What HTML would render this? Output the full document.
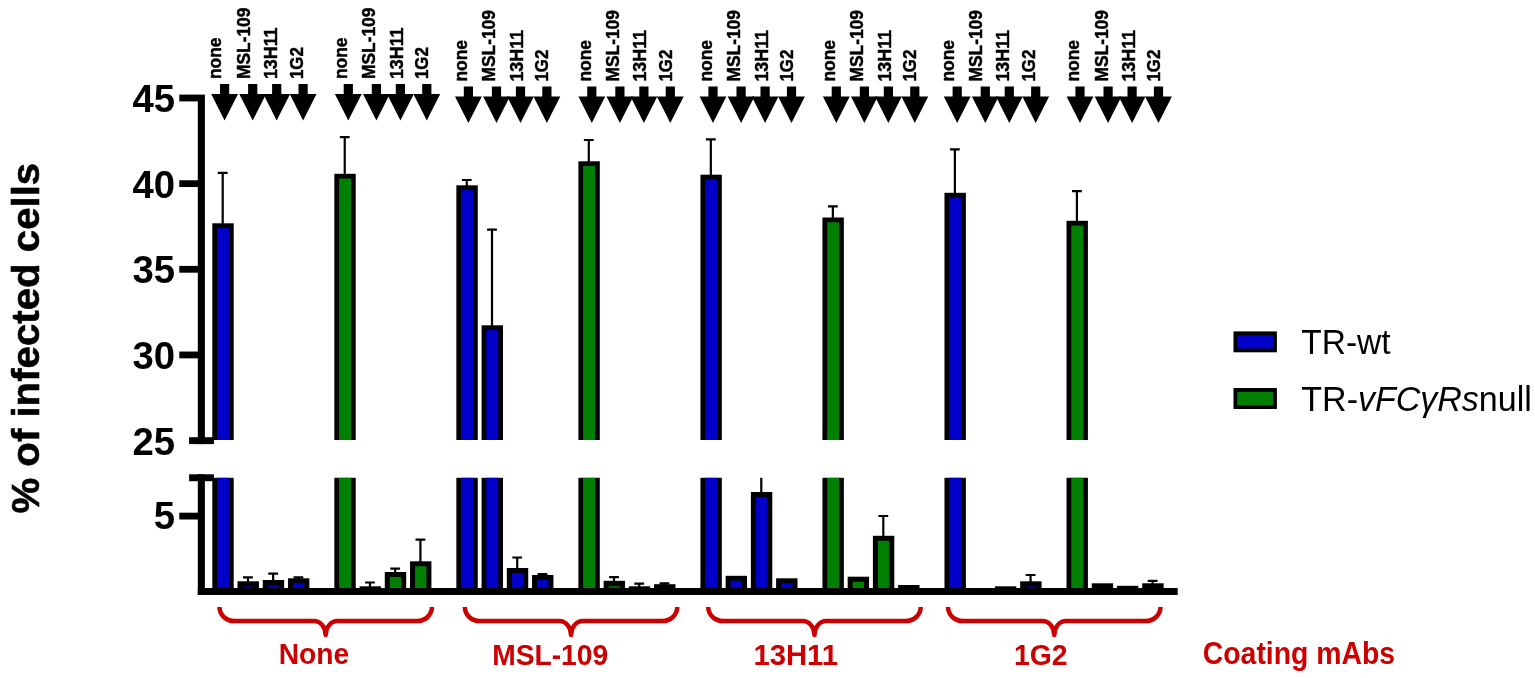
<!DOCTYPE html>
<html lang="en">
<head>
<meta charset="utf-8">
<title>% of infected cells - coating mAbs</title>
<style>
html,body{margin:0;padding:0;background:#fff;}
body{width:1535px;height:678px;overflow:hidden;}
svg{display:block;}
text{font-family:"Liberation Sans", sans-serif;}
.tick{font-size:38.3px;font-weight:bold;fill:#000;text-anchor:end;}
.ytitle{font-size:39.6px;font-weight:bold;fill:#000;text-anchor:middle;stroke:#000;stroke-width:0.6;stroke-linejoin:round;}
.top{font-size:18.4px;font-weight:bold;fill:#000;stroke:#000;stroke-width:0.45;stroke-linejoin:round;}
.red{font-size:29px;font-weight:bold;fill:#cc0000;}
.leg{font-size:35.2px;fill:#000;}
.err{stroke:#000;stroke-width:2.2;fill:none;}
.brace{fill:none;stroke:#cc0000;stroke-width:4.5;stroke-linecap:butt;stroke-linejoin:round;}
</style>
</head>
<body>
<svg width="1535" height="678" viewBox="0 0 1535 678" role="img" aria-label="Bar chart: % of infected cells by coating mAbs">
<rect x="0" y="0" width="1535" height="678" fill="#fff"/>
<text class="ytitle" transform="translate(38.8,338.2) rotate(-90)" textLength="350.8" lengthAdjust="spacingAndGlyphs">% of infected cells</text>
<text class="tick" x="175.1" y="111.7">45</text>
<text class="tick" x="175.1" y="197.5">40</text>
<text class="tick" x="175.1" y="283.2">35</text>
<text class="tick" x="175.1" y="368.8">30</text>
<text class="tick" x="175.1" y="454.6">25</text>
<text class="tick" x="175.1" y="528.5">5</text>
<g>
<path class="err" d="M222.7,225.3 V172.8 M217.8,172.8 H227.6"/>
<rect x="212.3" y="223.3" width="21.4" height="216.7" fill="#000"/>
<rect x="217.05" y="228.05" width="11.9" height="211.95" fill="#0000c8"/>
<rect x="212.3" y="477.8" width="21.4" height="113.7" fill="#000"/>
<rect x="217.05" y="477.8" width="11.9" height="113.7" fill="#0000c8"/>
<path class="err" d="M247.93,583.3 V577.3 M243.03,577.3 H252.83"/>
<rect x="237.53" y="581.3" width="21.4" height="10.2" fill="#000"/>
<rect x="242.58" y="586.25" width="11.3" height="3.08" fill="#00007b"/>
<path class="err" d="M273.16,582 V573.6 M268.26,573.6 H278.06"/>
<rect x="262.76" y="580" width="21.4" height="11.5" fill="#000"/>
<rect x="267.81" y="584.95" width="11.3" height="4.38" fill="#0000af"/>
<path class="err" d="M298.39,580.3 V577.3 M293.49,577.3 H303.29"/>
<rect x="287.99" y="578.3" width="21.4" height="13.2" fill="#000"/>
<rect x="293.04" y="583.25" width="11.3" height="6.08" fill="#0000c8"/>
<path class="err" d="M344.73,175.8 V137.2 M339.83,137.2 H349.63"/>
<rect x="334.33" y="173.8" width="21.4" height="266.2" fill="#000"/>
<rect x="339.08" y="178.55" width="11.9" height="261.45" fill="#008000"/>
<rect x="334.33" y="477.8" width="21.4" height="113.7" fill="#000"/>
<rect x="339.08" y="477.8" width="11.9" height="113.7" fill="#008000"/>
<path class="err" d="M369.96,588.3 V582.5 M365.06,582.5 H374.86"/>
<rect x="359.56" y="586.3" width="21.4" height="5.2" fill="#000"/>
<path class="err" d="M395.19,574 V568.6 M390.29,568.6 H400.09"/>
<rect x="384.79" y="572" width="21.4" height="19.5" fill="#000"/>
<rect x="389.84" y="576.95" width="11.3" height="12.38" fill="#008000"/>
<path class="err" d="M420.42,563.3 V539.6 M415.52,539.6 H425.32"/>
<rect x="410.02" y="561.3" width="21.4" height="30.2" fill="#000"/>
<rect x="415.07" y="566.25" width="11.3" height="23.08" fill="#008000"/>
<path class="err" d="M466.76,187.3 V180 M461.86,180 H471.66"/>
<rect x="456.36" y="185.3" width="21.4" height="254.7" fill="#000"/>
<rect x="461.11" y="190.05" width="11.9" height="249.95" fill="#0000c8"/>
<rect x="456.36" y="477.8" width="21.4" height="113.7" fill="#000"/>
<rect x="461.11" y="477.8" width="11.9" height="113.7" fill="#0000c8"/>
<path class="err" d="M491.99,327.3 V229.7 M487.09,229.7 H496.89"/>
<rect x="481.59" y="325.3" width="21.4" height="114.7" fill="#000"/>
<rect x="486.34" y="330.05" width="11.9" height="109.95" fill="#0000c8"/>
<rect x="481.59" y="477.8" width="21.4" height="113.7" fill="#000"/>
<rect x="486.34" y="477.8" width="11.9" height="113.7" fill="#0000c8"/>
<path class="err" d="M517.22,570 V557.5 M512.32,557.5 H522.12"/>
<rect x="506.82" y="568" width="21.4" height="23.5" fill="#000"/>
<rect x="511.87" y="572.95" width="11.3" height="16.38" fill="#0000c8"/>
<path class="err" d="M542.45,577 V574.2 M537.55,574.2 H547.35"/>
<rect x="532.05" y="575" width="21.4" height="16.5" fill="#000"/>
<rect x="537.1" y="579.95" width="11.3" height="9.38" fill="#0000c8"/>
<path class="err" d="M588.79,163.3 V140 M583.89,140 H593.69"/>
<rect x="578.39" y="161.3" width="21.4" height="278.7" fill="#000"/>
<rect x="583.14" y="166.05" width="11.9" height="273.95" fill="#008000"/>
<rect x="578.39" y="477.8" width="21.4" height="113.7" fill="#000"/>
<rect x="583.14" y="477.8" width="11.9" height="113.7" fill="#008000"/>
<path class="err" d="M614.02,582.8 V577.2 M609.12,577.2 H618.92"/>
<rect x="603.62" y="580.8" width="21.4" height="10.7" fill="#000"/>
<rect x="608.67" y="585.75" width="11.3" height="3.58" fill="#005c00"/>
<path class="err" d="M639.25,588.3 V583.7 M634.35,583.7 H644.15"/>
<rect x="628.85" y="586.3" width="21.4" height="5.2" fill="#000"/>
<path class="err" d="M664.48,586.2 V583.3 M659.58,583.3 H669.38"/>
<rect x="654.08" y="584.2" width="21.4" height="7.3" fill="#000"/>
<rect x="659.13" y="589.15" width="11.3" height="0.17" fill="#004000"/>
<path class="err" d="M710.82,176.7 V139.4 M705.92,139.4 H715.72"/>
<rect x="700.42" y="174.7" width="21.4" height="265.3" fill="#000"/>
<rect x="705.17" y="179.45" width="11.9" height="260.55" fill="#0000c8"/>
<rect x="700.42" y="477.8" width="21.4" height="113.7" fill="#000"/>
<rect x="705.17" y="477.8" width="11.9" height="113.7" fill="#0000c8"/>
<rect x="725.65" y="575.8" width="21.4" height="15.7" fill="#000"/>
<rect x="730.7" y="580.75" width="11.3" height="8.58" fill="#0000c8"/>
<path class="err" d="M761.28,494 V477.8"/>
<rect x="750.88" y="492" width="21.4" height="99.5" fill="#000"/>
<rect x="755.93" y="496.95" width="11.3" height="92.38" fill="#0000c8"/>
<rect x="776.11" y="578.3" width="21.4" height="13.2" fill="#000"/>
<rect x="781.16" y="583.25" width="11.3" height="6.08" fill="#0000c8"/>
<path class="err" d="M832.85,219.5 V206.3 M827.95,206.3 H837.75"/>
<rect x="822.45" y="217.5" width="21.4" height="222.5" fill="#000"/>
<rect x="827.2" y="222.25" width="11.9" height="217.75" fill="#008000"/>
<rect x="822.45" y="477.8" width="21.4" height="113.7" fill="#000"/>
<rect x="827.2" y="477.8" width="11.9" height="113.7" fill="#008000"/>
<rect x="847.68" y="576.7" width="21.4" height="14.8" fill="#000"/>
<rect x="852.73" y="581.65" width="11.3" height="7.67" fill="#008000"/>
<path class="err" d="M883.31,537.8 V516 M878.41,516 H888.21"/>
<rect x="872.91" y="535.8" width="21.4" height="55.7" fill="#000"/>
<rect x="877.96" y="540.75" width="11.3" height="48.58" fill="#008000"/>
<rect x="898.14" y="585" width="21.4" height="6.5" fill="#000"/>
<path class="err" d="M954.88,194.8 V149.4 M949.98,149.4 H959.78"/>
<rect x="944.48" y="192.8" width="21.4" height="247.2" fill="#000"/>
<rect x="949.23" y="197.55" width="11.9" height="242.45" fill="#0000c8"/>
<rect x="944.48" y="477.8" width="21.4" height="113.7" fill="#000"/>
<rect x="949.23" y="477.8" width="11.9" height="113.7" fill="#0000c8"/>
<rect x="994.94" y="586.3" width="21.4" height="5.2" fill="#000"/>
<path class="err" d="M1030.57,583.3 V575 M1025.67,575 H1035.47"/>
<rect x="1020.17" y="581.3" width="21.4" height="10.2" fill="#000"/>
<rect x="1025.22" y="586.25" width="11.3" height="3.08" fill="#00007b"/>
<path class="err" d="M1076.91,222.8 V191.1 M1072.01,191.1 H1081.81"/>
<rect x="1066.51" y="220.8" width="21.4" height="219.2" fill="#000"/>
<rect x="1071.26" y="225.55" width="11.9" height="214.45" fill="#008000"/>
<rect x="1066.51" y="477.8" width="21.4" height="113.7" fill="#000"/>
<rect x="1071.26" y="477.8" width="11.9" height="113.7" fill="#008000"/>
<rect x="1091.74" y="583.3" width="21.4" height="8.2" fill="#000"/>
<rect x="1096.79" y="588.25" width="11.3" height="1.08" fill="#004000"/>
<rect x="1116.97" y="585.8" width="21.4" height="5.7" fill="#000"/>
<path class="err" d="M1152.6,585.3 V580.8 M1147.7,580.8 H1157.5"/>
<rect x="1142.2" y="583.3" width="21.4" height="8.2" fill="#000"/>
<rect x="1147.25" y="588.25" width="11.3" height="1.08" fill="#004000"/>
</g>
<g fill="#000">
<rect x="197.8" y="94.6" width="7.1" height="349.5"/>
<rect x="197.8" y="474.3" width="7.1" height="120.7"/>
<rect x="179.3" y="94.6" width="19" height="6.8"/>
<rect x="179.3" y="180.25" width="19" height="6.8"/>
<rect x="179.3" y="265.9" width="19" height="6.8"/>
<rect x="179.3" y="351.55" width="19" height="6.8"/>
<rect x="179.3" y="512.7" width="19" height="6.8"/>
<rect x="189.1" y="437.2" width="24.8" height="6.9"/>
<rect x="189.1" y="474.3" width="24.8" height="6.9"/>
<rect x="197.8" y="588" width="979.9" height="7"/>
</g>
<g fill="#000">
<path transform="translate(224.6,83.9)" d="M-4.6,0H4.6V10.2H13.4L0,36.6L-13.4,10.2H-4.6Z"/>
<path transform="translate(252.7,83.9)" d="M-4.6,0H4.6V10.2H13.4L0,36.6L-13.4,10.2H-4.6Z"/>
<path transform="translate(276.7,83.9)" d="M-4.6,0H4.6V10.2H13.4L0,36.6L-13.4,10.2H-4.6Z"/>
<path transform="translate(303.1,83.9)" d="M-4.6,0H4.6V10.2H13.4L0,36.6L-13.4,10.2H-4.6Z"/>
<path transform="translate(348.3,83.9)" d="M-4.6,0H4.6V10.2H13.4L0,36.6L-13.4,10.2H-4.6Z"/>
<path transform="translate(376.4,83.9)" d="M-4.6,0H4.6V10.2H13.4L0,36.6L-13.4,10.2H-4.6Z"/>
<path transform="translate(400.4,83.9)" d="M-4.6,0H4.6V10.2H13.4L0,36.6L-13.4,10.2H-4.6Z"/>
<path transform="translate(426.8,83.9)" d="M-4.6,0H4.6V10.2H13.4L0,36.6L-13.4,10.2H-4.6Z"/>
<path transform="translate(468.4,86.4)" d="M-4.6,0H4.6V10.2H13.4L0,36.6L-13.4,10.2H-4.6Z"/>
<path transform="translate(496.5,86.4)" d="M-4.6,0H4.6V10.2H13.4L0,36.6L-13.4,10.2H-4.6Z"/>
<path transform="translate(520.5,86.4)" d="M-4.6,0H4.6V10.2H13.4L0,36.6L-13.4,10.2H-4.6Z"/>
<path transform="translate(546.9,86.4)" d="M-4.6,0H4.6V10.2H13.4L0,36.6L-13.4,10.2H-4.6Z"/>
<path transform="translate(591.8,86.4)" d="M-4.6,0H4.6V10.2H13.4L0,36.6L-13.4,10.2H-4.6Z"/>
<path transform="translate(619.9,86.4)" d="M-4.6,0H4.6V10.2H13.4L0,36.6L-13.4,10.2H-4.6Z"/>
<path transform="translate(643.9,86.4)" d="M-4.6,0H4.6V10.2H13.4L0,36.6L-13.4,10.2H-4.6Z"/>
<path transform="translate(670.3,86.4)" d="M-4.6,0H4.6V10.2H13.4L0,36.6L-13.4,10.2H-4.6Z"/>
<path transform="translate(713,86.4)" d="M-4.6,0H4.6V10.2H13.4L0,36.6L-13.4,10.2H-4.6Z"/>
<path transform="translate(741.1,86.4)" d="M-4.6,0H4.6V10.2H13.4L0,36.6L-13.4,10.2H-4.6Z"/>
<path transform="translate(765.1,86.4)" d="M-4.6,0H4.6V10.2H13.4L0,36.6L-13.4,10.2H-4.6Z"/>
<path transform="translate(791.5,86.4)" d="M-4.6,0H4.6V10.2H13.4L0,36.6L-13.4,10.2H-4.6Z"/>
<path transform="translate(836.3,86.4)" d="M-4.6,0H4.6V10.2H13.4L0,36.6L-13.4,10.2H-4.6Z"/>
<path transform="translate(864.4,86.4)" d="M-4.6,0H4.6V10.2H13.4L0,36.6L-13.4,10.2H-4.6Z"/>
<path transform="translate(888.4,86.4)" d="M-4.6,0H4.6V10.2H13.4L0,36.6L-13.4,10.2H-4.6Z"/>
<path transform="translate(914.8,86.4)" d="M-4.6,0H4.6V10.2H13.4L0,36.6L-13.4,10.2H-4.6Z"/>
<path transform="translate(957.2,86.4)" d="M-4.6,0H4.6V10.2H13.4L0,36.6L-13.4,10.2H-4.6Z"/>
<path transform="translate(985.3,86.4)" d="M-4.6,0H4.6V10.2H13.4L0,36.6L-13.4,10.2H-4.6Z"/>
<path transform="translate(1009.3,86.4)" d="M-4.6,0H4.6V10.2H13.4L0,36.6L-13.4,10.2H-4.6Z"/>
<path transform="translate(1035.7,86.4)" d="M-4.6,0H4.6V10.2H13.4L0,36.6L-13.4,10.2H-4.6Z"/>
<path transform="translate(1080,86.4)" d="M-4.6,0H4.6V10.2H13.4L0,36.6L-13.4,10.2H-4.6Z"/>
<path transform="translate(1108.1,86.4)" d="M-4.6,0H4.6V10.2H13.4L0,36.6L-13.4,10.2H-4.6Z"/>
<path transform="translate(1132.1,86.4)" d="M-4.6,0H4.6V10.2H13.4L0,36.6L-13.4,10.2H-4.6Z"/>
<path transform="translate(1158.5,86.4)" d="M-4.6,0H4.6V10.2H13.4L0,36.6L-13.4,10.2H-4.6Z"/>
</g>
<text class="top" transform="translate(221.1,79.1) rotate(-90)" textLength="41.6" lengthAdjust="spacingAndGlyphs">none</text>
<text class="top" transform="translate(249.7,79.1) rotate(-90)" textLength="71.6" lengthAdjust="spacingAndGlyphs">MSL-109</text>
<text class="top" transform="translate(277,79.1) rotate(-90)" textLength="51.6" lengthAdjust="spacingAndGlyphs">13H11</text>
<text class="top" transform="translate(302.8,79.1) rotate(-90)" textLength="31.9" lengthAdjust="spacingAndGlyphs">1G2</text>
<text class="top" transform="translate(347,79.1) rotate(-90)" textLength="41.6" lengthAdjust="spacingAndGlyphs">none</text>
<text class="top" transform="translate(375.3,79.1) rotate(-90)" textLength="71.6" lengthAdjust="spacingAndGlyphs">MSL-109</text>
<text class="top" transform="translate(402.9,79.1) rotate(-90)" textLength="51.6" lengthAdjust="spacingAndGlyphs">13H11</text>
<text class="top" transform="translate(428.2,79.1) rotate(-90)" textLength="31.9" lengthAdjust="spacingAndGlyphs">1G2</text>
<text class="top" transform="translate(467.1,81.6) rotate(-90)" textLength="41.6" lengthAdjust="spacingAndGlyphs">none</text>
<text class="top" transform="translate(495.4,81.6) rotate(-90)" textLength="71.6" lengthAdjust="spacingAndGlyphs">MSL-109</text>
<text class="top" transform="translate(523,81.6) rotate(-90)" textLength="51.6" lengthAdjust="spacingAndGlyphs">13H11</text>
<text class="top" transform="translate(548.3,81.6) rotate(-90)" textLength="31.9" lengthAdjust="spacingAndGlyphs">1G2</text>
<text class="top" transform="translate(590.5,81.6) rotate(-90)" textLength="41.6" lengthAdjust="spacingAndGlyphs">none</text>
<text class="top" transform="translate(618.8,81.6) rotate(-90)" textLength="71.6" lengthAdjust="spacingAndGlyphs">MSL-109</text>
<text class="top" transform="translate(646.4,81.6) rotate(-90)" textLength="51.6" lengthAdjust="spacingAndGlyphs">13H11</text>
<text class="top" transform="translate(671.7,81.6) rotate(-90)" textLength="31.9" lengthAdjust="spacingAndGlyphs">1G2</text>
<text class="top" transform="translate(711.7,81.6) rotate(-90)" textLength="41.6" lengthAdjust="spacingAndGlyphs">none</text>
<text class="top" transform="translate(740,81.6) rotate(-90)" textLength="71.6" lengthAdjust="spacingAndGlyphs">MSL-109</text>
<text class="top" transform="translate(767.6,81.6) rotate(-90)" textLength="51.6" lengthAdjust="spacingAndGlyphs">13H11</text>
<text class="top" transform="translate(792.9,81.6) rotate(-90)" textLength="31.9" lengthAdjust="spacingAndGlyphs">1G2</text>
<text class="top" transform="translate(835,81.6) rotate(-90)" textLength="41.6" lengthAdjust="spacingAndGlyphs">none</text>
<text class="top" transform="translate(863.3,81.6) rotate(-90)" textLength="71.6" lengthAdjust="spacingAndGlyphs">MSL-109</text>
<text class="top" transform="translate(890.9,81.6) rotate(-90)" textLength="51.6" lengthAdjust="spacingAndGlyphs">13H11</text>
<text class="top" transform="translate(916.2,81.6) rotate(-90)" textLength="31.9" lengthAdjust="spacingAndGlyphs">1G2</text>
<text class="top" transform="translate(953.6,81.6) rotate(-90)" textLength="41.6" lengthAdjust="spacingAndGlyphs">none</text>
<text class="top" transform="translate(982.4,81.6) rotate(-90)" textLength="71.6" lengthAdjust="spacingAndGlyphs">MSL-109</text>
<text class="top" transform="translate(1009.2,81.6) rotate(-90)" textLength="51.6" lengthAdjust="spacingAndGlyphs">13H11</text>
<text class="top" transform="translate(1035,81.6) rotate(-90)" textLength="31.9" lengthAdjust="spacingAndGlyphs">1G2</text>
<text class="top" transform="translate(1079.1,81.6) rotate(-90)" textLength="41.6" lengthAdjust="spacingAndGlyphs">none</text>
<text class="top" transform="translate(1107.6,81.6) rotate(-90)" textLength="71.6" lengthAdjust="spacingAndGlyphs">MSL-109</text>
<text class="top" transform="translate(1134.7,81.6) rotate(-90)" textLength="51.6" lengthAdjust="spacingAndGlyphs">13H11</text>
<text class="top" transform="translate(1160.3,81.6) rotate(-90)" textLength="31.9" lengthAdjust="spacingAndGlyphs">1G2</text>
<path class="brace" d="M219.45,607.1 A15,14 0 0 0 234.45,621.1 H313.9 A11.8,13.85 0 0 1 325.7,634.95 M431.95,607.1 A15,14 0 0 1 416.95,621.1 H337.5 A11.8,13.85 0 0 0 325.7,634.95"/>
<circle cx="325.7" cy="634.95" r="2.25" fill="#cc0000"/>
<path class="brace" d="M464.8,607.1 A15,14 0 0 0 479.8,621.1 H559.25 A11.8,13.85 0 0 1 571.05,634.95 M677.3,607.1 A15,14 0 0 1 662.3,621.1 H582.85 A11.8,13.85 0 0 0 571.05,634.95"/>
<circle cx="571.05" cy="634.95" r="2.25" fill="#cc0000"/>
<path class="brace" d="M708.2,607.1 A15,14 0 0 0 723.2,621.1 H802.65 A11.8,13.85 0 0 1 814.45,634.95 M920.7,607.1 A15,14 0 0 1 905.7,621.1 H826.25 A11.8,13.85 0 0 0 814.45,634.95"/>
<circle cx="814.45" cy="634.95" r="2.25" fill="#cc0000"/>
<path class="brace" d="M948,607.1 A15,14 0 0 0 963,621.1 H1042.45 A11.8,13.85 0 0 1 1054.25,634.95 M1160.5,607.1 A15,14 0 0 1 1145.5,621.1 H1066.05 A11.8,13.85 0 0 0 1054.25,634.95"/>
<circle cx="1054.25" cy="634.95" r="2.25" fill="#cc0000"/>
<text class="red" x="278.7" y="664" textLength="70.5" lengthAdjust="spacingAndGlyphs">None</text>
<text class="red" x="492.2" y="665.4" textLength="116" lengthAdjust="spacingAndGlyphs">MSL-109</text>
<text class="red" x="753.4" y="665.4" textLength="84.6" lengthAdjust="spacingAndGlyphs">13H11</text>
<text class="red" x="1014" y="665.4" textLength="53.6" lengthAdjust="spacingAndGlyphs">1G2</text>
<text class="red" style="font-size:30.6px" x="1202.8" y="663.6" textLength="192.3" lengthAdjust="spacingAndGlyphs">Coating mAbs</text>
<rect x="1235.4" y="333.3" width="39.6" height="17.1" fill="#0000c8" stroke="#000" stroke-width="3.8"/>
<rect x="1235.4" y="389.9" width="39.6" height="17.2" fill="#008000" stroke="#000" stroke-width="3.8"/>
<text class="leg" x="1301.3" y="353.5" textLength="89.3" lengthAdjust="spacingAndGlyphs">TR-wt</text>
<text class="leg" x="1301.3" y="410.8" textLength="230.5" lengthAdjust="spacingAndGlyphs">TR-<tspan font-style="italic">vFCγRs</tspan>null</text>
</svg>
</body>
</html>
